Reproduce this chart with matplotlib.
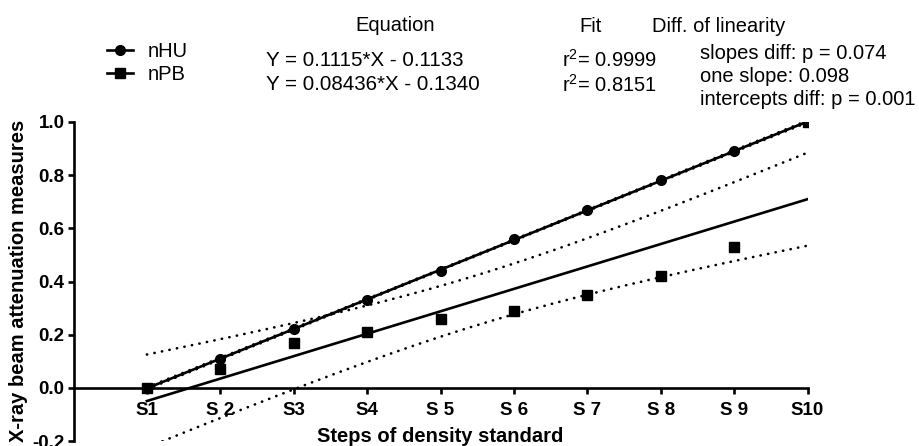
import numpy as np
import matplotlib as mpl
mpl.use('agg')
import matplotlib.pyplot as plt
from matplotlib.lines import Line2D

# data
steps = np.arange(1, 11)
step_labels = ['S1', 'S 2', 'S3', 'S4', 'S 5', 'S 6', 'S 7', 'S 8', 'S 9', 'S10']
nHU = [0.00, 0.11, 0.22, 0.33, 0.44, 0.56, 0.67, 0.78, 0.89, 1.00]
nPB = [0.00, 0.07, 0.17, 0.21, 0.26, 0.29, 0.35, 0.42, 0.53, 1.00]

equations = ['Y = 0.1115*X - 0.1133', 'Y = 0.08436*X - 0.1340']
fits = [r'r$^2$= 0.9999', r'r$^2$= 0.8151']
diffs = ['slopes diff: p = 0.074', 'one slope: 0.098', 'intercepts diff: p = 0.001']

T975 = 2.306  # t(0.975, df=8)

plt.rcParams['font.family'] = ['Liberation Sans', 'DejaVu Sans']
plt.rcParams['mathtext.fontset'] = 'custom'
plt.rcParams['mathtext.rm'] = 'Liberation Sans'
plt.rcParams['mathtext.default'] = 'regular'

W, H = 919, 446
fig = plt.figure(figsize=(W/100, H/100), dpi=100)

def px(x, y):
  return x/W, 1 - y/H

# axes placed in pixels: x=0 at 73.5, x=10 at 807.5, y=1.0 at 122, y=-0.2 at 441
l, b = px(73.5, 441)
r, t = px(807.5, 122)
ax = fig.add_axes([l, b, r-l, t-b])

def fit_band(y):
  y = np.asarray(y)
  slope, icpt = np.polyfit(steps, y, 1)
  xs = np.linspace(1, 10, 200)
  pred = slope*xs + icpt
  resid = y - (slope*steps + icpt)
  s = np.sqrt(np.sum(resid**2)/(len(y)-2))
  sxx = np.sum((steps - steps.mean())**2)
  half = T975*s*np.sqrt(1/len(y) + (xs - steps.mean())**2/sxx)
  return xs, pred, pred-half, pred+half

dot = (0, (0.1, 2.8))
for y in [nHU, nPB]:
  xs, pred, lo, hi = fit_band(y)
  ax.plot(xs, pred, color='k', lw=1.9, zorder=3)
  ax.plot(xs, lo, color='k', lw=1.9, ls=dot, dash_capstyle='round', zorder=2)
  ax.plot(xs, hi, color='k', lw=1.9, ls=dot, dash_capstyle='round', zorder=2)

ax.plot(steps, nHU, 'o', color='k', ms=7, zorder=4)
ax.plot(steps, nPB, 's', color='k', ms=7.5, zorder=5)

ax.set_xlim(0, 10)
ax.set_ylim(-0.2, 1.0)
ax.set_xticks(steps)
ax.set_xticklabels(step_labels)
ax.set_yticks(np.arange(-0.2, 1.01, 0.2))
ax.set_yticklabels(['%.1f' % v for v in np.arange(-0.2, 1.01, 0.2)])

for s in ['top', 'right']:
  ax.spines[s].set_visible(False)
ax.spines['bottom'].set_position(('data', 0))
for s in ['left', 'bottom']:
  ax.spines[s].set_linewidth(1.9)
ax.tick_params(width=1.9, length=4.5, labelsize=13.5)
ax.tick_params(axis='x', pad=6)
ax.tick_params(axis='y', pad=2)
for lab in ax.get_xticklabels() + ax.get_yticklabels():
  lab.set_fontweight('bold')

fig.text(*px(440, 442), 'Steps of density standard', ha='center', va='baseline',
         fontsize=14.5, fontweight='bold')
fig.text(*px(19, 281), 'X-ray beam attenuation measures', ha='center', va='center',
         rotation=90, fontsize=14.5, fontweight='bold')

# legend
handles = [Line2D([], [], color='k', lw=1.9, marker='o', ms=7),
           Line2D([], [], color='k', lw=1.9, marker='s', ms=7.5)]
fig.legend(handles, ['nHU', 'nPB'], loc='upper left', bbox_to_anchor=px(107, 42),
           frameon=False, borderpad=0, borderaxespad=0, handlelength=1.3,
           handletextpad=0.7, labelspacing=0.2, fontsize=14.5)

# header texts
fs = 14.5
fig.text(*px(395, 31), 'Equation', ha='center', va='baseline', fontsize=fs)
fig.text(*px(591, 32), 'Fit', ha='center', va='baseline', fontsize=fs)
fig.text(*px(652, 32), 'Diff. of linearity', ha='left', va='baseline', fontsize=fs)
for i, txt in enumerate(equations):
  fig.text(*px(266, 66 + 24*i), txt, ha='left', va='baseline', fontsize=fs + 0.3)
for i, txt in enumerate(fits):
  fig.text(*px(562, 67 + 25*i), txt, ha='left', va='baseline', fontsize=fs)
for i, txt in enumerate(diffs):
  fig.text(*px(700, 59 + 23*i), txt, ha='left', va='baseline', fontsize=fs)

plt.savefig('out.png', dpi=100)
